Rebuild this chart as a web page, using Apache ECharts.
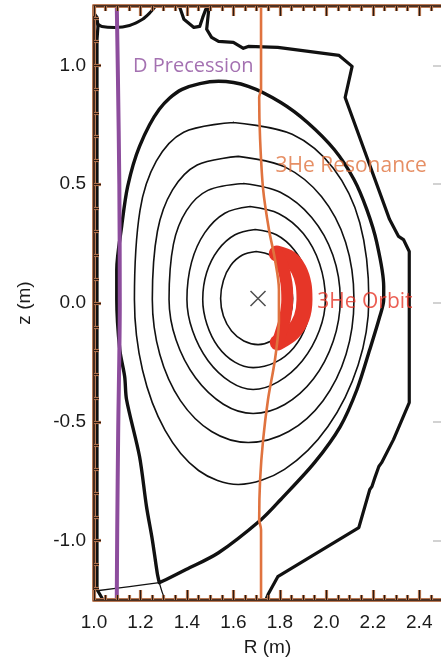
<!DOCTYPE html>
<html><head><meta charset="utf-8">
<script src="https://cdn.jsdelivr.net/npm/echarts@6/dist/echarts.min.js"></script>
<style>html,body{margin:0;padding:0;background:#fff;}#c{width:441px;height:662px;}</style>
</head><body><div id="c"></div>
<script>
// ---- data (R in m, z in m) ----
const separatrix = [[1.281,-1.177],[1.272,-1.135],[1.251,-0.996],[1.226,-0.857],[1.196,-0.646],[1.140,-0.406],[1.132,-0.309],[1.111,-0.196],[1.098,0.015],[1.098,0.141],[1.119,0.322],[1.145,0.491],[1.196,0.659],[1.281,0.815],[1.379,0.899],[1.536,0.933],[1.664,0.912],[1.804,0.844],[1.919,0.760],[2.034,0.646],[2.119,0.520],[2.174,0.394],[2.217,0.255],[2.247,0.069],[2.247,0.015],[2.230,-0.057],[2.187,-0.196],[2.132,-0.364],[2.060,-0.520],[1.949,-0.672],[1.804,-0.827],[1.719,-0.912],[1.536,-1.051],[1.396,-1.122],[1.311,-1.164],[1.281,-1.177]];
const separatrixLegInner = [[1.281,-1.177],[1.153,-1.194],[1.013,-1.211]];
const separatrixLegOuter = [[1.281,-1.177],[1.294,-1.219],[1.306,-1.248]];
const fluxSurface1 = [[1.698,0.217],[1.758,0.202],[1.809,0.159],[1.843,0.095],[1.855,0.019],[1.844,-0.055],[1.811,-0.118],[1.763,-0.160],[1.706,-0.175],[1.645,-0.160],[1.592,-0.118],[1.557,-0.055],[1.545,0.019],[1.557,0.095],[1.589,0.159],[1.639,0.202],[1.698,0.217]];
const fluxSurface2 = [[1.694,0.309],[1.785,0.287],[1.862,0.223],[1.914,0.128],[1.932,0.015],[1.913,-0.095],[1.860,-0.188],[1.780,-0.250],[1.685,-0.272],[1.606,-0.249],[1.534,-0.184],[1.486,-0.089],[1.468,0.015],[1.485,0.128],[1.534,0.223],[1.607,0.287],[1.694,0.309]];
const fluxSurface3 = [[1.672,0.406],[1.796,0.376],[1.901,0.292],[1.971,0.165],[1.996,0.015],[1.970,-0.116],[1.897,-0.243],[1.792,-0.332],[1.685,-0.364],[1.587,-0.332],[1.491,-0.243],[1.424,-0.116],[1.400,0.015],[1.420,0.172],[1.477,0.296],[1.563,0.378],[1.672,0.406]];
const fluxSurface4 = [[1.643,0.503],[1.802,0.466],[1.937,0.360],[2.028,0.202],[2.060,0.015],[2.030,-0.160],[1.945,-0.319],[1.821,-0.427],[1.685,-0.465],[1.557,-0.426],[1.437,-0.315],[1.353,-0.155],[1.323,0.015],[1.342,0.248],[1.398,0.389],[1.490,0.474],[1.643,0.503]];
const fluxSurface5 = [[1.621,0.617],[1.821,0.573],[1.979,0.448],[2.083,0.256],[2.119,0.015],[2.085,-0.216],[1.986,-0.411],[1.838,-0.541],[1.664,-0.587],[1.506,-0.541],[1.372,-0.411],[1.283,-0.216],[1.251,0.015],[1.273,0.302],[1.338,0.476],[1.444,0.581],[1.621,0.617]];
const fluxSurface6 = [[1.600,0.760],[1.853,0.710],[2.031,0.566],[2.144,0.338],[2.183,0.015],[2.137,-0.261],[2.007,-0.520],[1.820,-0.700],[1.621,-0.764],[1.450,-0.705],[1.306,-0.536],[1.209,-0.283],[1.174,0.015],[1.198,0.390],[1.268,0.597],[1.386,0.719],[1.600,0.760]];
const wallInner = [[1.000,1.219],[1.013,1.202],[1.017,1.164],[1.013,1.110],[1.013,-1.206],[1.038,-1.248]];
const wallTopLeft = [[1.017,1.173],[1.034,1.164],[1.089,1.160],[1.153,1.168],[1.209,1.194],[1.238,1.219],[1.268,1.253]];
const wallOuter = [[1.366,1.253],[1.387,1.194],[1.430,1.160],[1.455,1.164],[1.468,1.202],[1.481,1.236],[1.494,1.236],[1.485,1.152],[1.506,1.118],[1.536,1.101],[1.600,1.097],[1.643,1.072],[1.664,1.080],[1.791,1.076],[2.055,1.042],[2.111,0.996],[2.081,0.865],[2.272,0.352],[2.311,0.280],[2.332,0.267],[2.357,0.217],[2.357,-0.419],[2.289,-0.575],[2.238,-0.672],[2.226,-0.688],[2.209,-0.735],[2.196,-0.773],[2.187,-0.785],[2.140,-0.945],[1.791,-1.152],[1.749,-1.227],[1.740,-1.248]];
const dPrecession = [[1.098,1.253],[1.103,0.95],[1.109,0.5],[1.111,0.0],[1.104,-0.55],[1.100,-0.95],[1.098,-1.25]];
const he3Resonance = [[1.719,1.253],[1.719,0.899],[1.711,0.865],[1.715,0.688],[1.728,0.478],[1.753,0.309],[1.779,0.183],[1.796,0.057],[1.796,-0.069],[1.779,-0.238],[1.749,-0.406],[1.728,-0.575],[1.715,-0.743],[1.711,-0.912],[1.719,-0.954],[1.719,-1.248]];
const he3OrbitOuter = [[1.787,0.208],[1.843,0.187],[1.881,0.141],[1.902,0.078],[1.906,0.015],[1.894,-0.061],[1.855,-0.124],[1.791,-0.166]];
const he3OrbitInner = [[1.787,0.208],[1.811,0.158],[1.828,0.086],[1.832,0.015],[1.823,-0.061],[1.806,-0.120],[1.791,-0.166]];
const magneticAxis = [[1.706,0.019]];
const rMajorTicks = [1.0,1.2,1.4,1.6,1.8,2.0,2.2,2.4];
const rMinorTicks = [1.05,1.10,1.15,1.25,1.30,1.35,1.45,1.50,1.55,1.65,1.70,1.75,1.85,1.90,1.95,2.05,2.10,2.15,2.25,2.30,2.35,2.45];
const zMajorTicks = [-1.0,-0.5,0.0,0.5,1.0];
const zMinorTicks = [-1.2,-1.1,-0.9,-0.8,-0.7,-0.6,-0.4,-0.3,-0.2,-0.1,0.1,0.2,0.3,0.4,0.6,0.7,0.8,0.9,1.1,1.2];
const annotationTexts = ['D Precession','3He Resonance','3He Orbit'];

// ---- styling ----
const BROWN = '#bb7a55', DARK = '#2a1a12';
const TICKFONT = {fontFamily:'Liberation Sans', fontSize:19, color:'#1a1a1a'};
const RMAX = 2.4936;

function xa(pos, o){ return Object.assign({type:'value', position:pos, min:1.0, max:RMAX, splitLine:{show:false}, axisLine:{show:false,onZero:false}, axisTick:{show:false}, axisLabel:{show:false}, z:5}, o); }
function ya(pos, o){ return Object.assign({type:'value', position:pos, min:-1.25, max:1.25, splitLine:{show:false}, axisLine:{show:false,onZero:false}, axisTick:{show:false}, axisLabel:{show:false}, z:5}, o); }
function frameSet(fn, pos, minorLen, majorLen, labels){
  const minor = fn===xa ? rMinorTicks : zMinorTicks;
  const major = fn===xa ? rMajorTicks : zMajorTicks;
  return [
    fn(pos, {axisLine:{show:true,onZero:false,lineStyle:{color:BROWN,width:4}}, axisTick:{show:true,inside:true,length:minorLen,customValues:minor,lineStyle:{color:BROWN,width:3.2}}}),
    fn(pos, {axisTick:{show:true,inside:true,length:majorLen,customValues:major,lineStyle:{color:BROWN,width:3.2}}}),
    fn(pos, {axisLine:{show:true,onZero:false,lineStyle:{color:DARK,width:1.6}}, axisTick:{show:true,inside:true,length:minorLen,customValues:minor,lineStyle:{color:DARK,width:1.2}}}),
    fn(pos, Object.assign({axisTick:{show:true,inside:true,length:majorLen,customValues:major,lineStyle:{color:DARK,width:1.2}}}, labels||{}))
  ];
}
const xAxes = [].concat(
  frameSet(xa,'bottom',5,10,{axisLabel:Object.assign({show:true,customValues:rMajorTicks,margin:13,formatter:v=>v.toFixed(1)},TICKFONT), name:'R (m)', nameLocation:'middle', nameGap:38, nameTextStyle:TICKFONT}),
  frameSet(xa,'top',5,10,null)
);
const yAxes = [].concat(
  frameSet(ya,'left',5,7,{axisLabel:Object.assign({show:true,customValues:zMajorTicks,margin:8,formatter:v=>v.toFixed(1)},TICKFONT), name:'z (m)', nameLocation:'middle', nameGap:60, nameTextStyle:TICKFONT}),
  [ya('right',{axisTick:{show:true,inside:true,length:8,customValues:zMajorTicks,lineStyle:{color:'#c4c4c4',width:1.5}}})]
);

function line(data, color, width, smooth, z){
  return {type:'line', data:data, xAxisIndex:0, yAxisIndex:0, showSymbol:false, symbol:'none', smooth:smooth, silent:true, z:z||2,
    lineStyle:{color:color, width:width, cap:'round', join:'round'}};
}
function note(text, anchor, color, size){
  return {type:'scatter', data:[anchor], xAxisIndex:0, yAxisIndex:0, symbolSize:1, itemStyle:{color:'transparent'}, silent:true, z:6,
    label:{show:true, position:'right', distance:0, formatter:text, color:color, fontFamily:'Open Sans', fontSize:size, align:'left', verticalAlign:'middle'}};
}

const PURPLE = '#8d4d9d', ORANGE = '#e0733f', RED = '#e63628', BLACK = '#111';
const S = 0.33;
const series = [
  line(fluxSurface1, BLACK, 1.6, S),
  line(fluxSurface2, BLACK, 1.6, S),
  line(fluxSurface3, BLACK, 1.6, S),
  line(fluxSurface4, BLACK, 1.6, S),
  line(fluxSurface5, BLACK, 1.6, S),
  line(fluxSurface6, BLACK, 1.6, S),
  line(separatrix, BLACK, 3.4, 0.3),
  line(separatrixLegInner, BLACK, 1.3, 0.3),
  line(separatrixLegOuter, BLACK, 1.3, 0.3),
  line(wallInner, BLACK, 3.2, false),
  line(wallTopLeft, BLACK, 3.0, 0.3),
  line(wallOuter, BLACK, 3.2, false),
  line(dPrecession, PURPLE, 4, 0.3, 3),
  line(he3OrbitOuter, RED, 16, 0.33, 3),
  line(he3OrbitInner, RED, 12, 0.33, 3),
  line(he3Resonance, ORANGE, 2.6, 0.3, 4),
  {type:'scatter', data:magneticAxis, xAxisIndex:0, yAxisIndex:0, symbol:'path://M0,0L10,10M10,0L0,10', symbolSize:15, silent:true, z:4,
    itemStyle:{color:'transparent', borderColor:'#222', borderWidth:1.5}},
  note(annotationTexts[0], [1.166,0.996], PURPLE, 20),
  note(annotationTexts[1], [1.779,0.577], ORANGE, 21),
  note(annotationTexts[2], [1.959,0.006], RED, 21)
];

const chart = echarts.init(document.getElementById('c'), null, {renderer:'canvas', width:441, height:662});
chart.setOption({
  animation:false,
  backgroundColor:'#fff',
  grid:{left:94, top:6, width:351, height:594, containLabel:false},
  xAxis:xAxes,
  yAxis:yAxes,
  series:series
});
</script></body></html>
